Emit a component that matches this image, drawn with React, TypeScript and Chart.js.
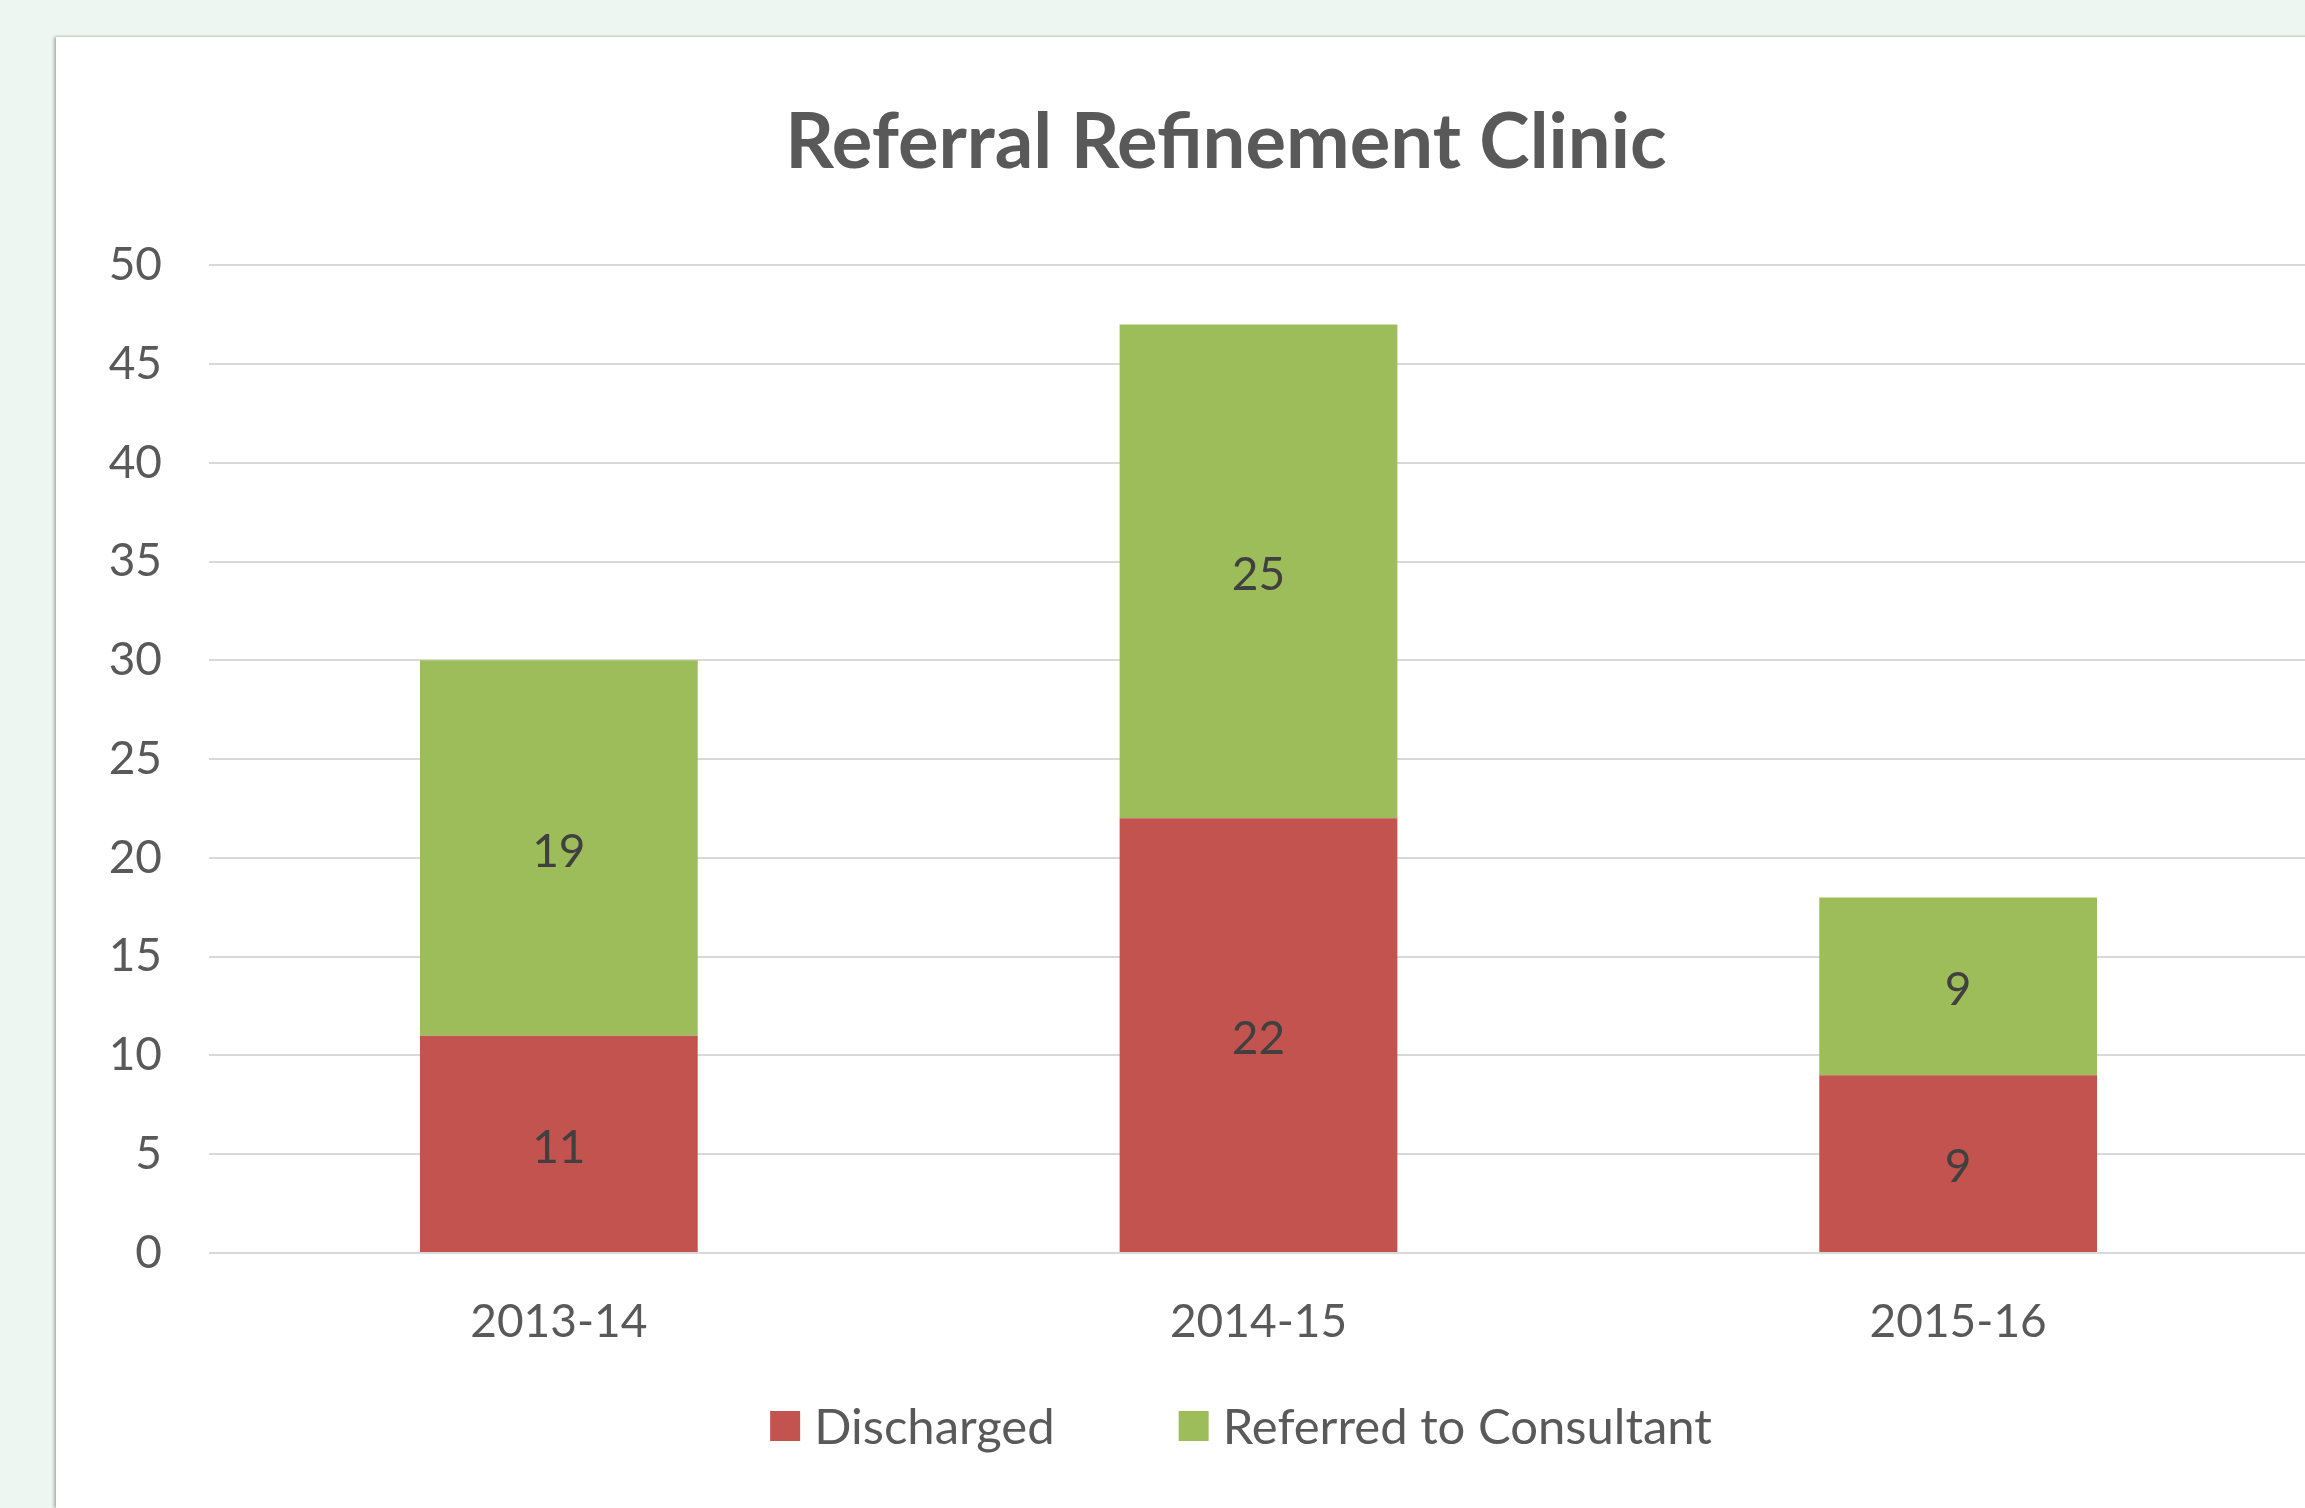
import React, { useEffect, useRef } from "react";
import { Chart, registerables } from "chart.js";

Chart.register(...registerables);

const categories = ["2013-14", "2014-15", "2015-16"];
const discharged = [11, 22, 9];
const referred = [19, 25, 9];
const seriesNames = ["Discharged", "Referred to Consultant"];
const seriesColors = ["#c2534f", "#9dbd5b"];
const chartTitle = "Referral Refinement Clinic";
const yMin = 0;
const yMax = 50;
const yStep = 5;

const FONT = "Lato";
const CANVAS_W = 2340;
const CANVAS_H = 1471;

const dataLabelPlugin = {
  id: "dataLabels",
  afterDatasetsDraw(chart: any) {
    const ctx = chart.ctx;
    ctx.save();
    ctx.font = `46px ${FONT}`;
    ctx.fillStyle = "#404040";
    ctx.textAlign = "center";
    ctx.textBaseline = "middle";
    chart.data.datasets.forEach((ds: any, i: number) => {
      const meta = chart.getDatasetMeta(i);
      meta.data.forEach((el: any, j: number) => {
        const p = el.getCenterPoint();
        ctx.fillText(String(ds.data[j]), p.x, p.y + 4);
      });
    });
    ctx.restore();
  },
};

const legendPlugin = {
  id: "customLegend",
  afterDraw(chart: any) {
    const ctx = chart.ctx;
    const box = 30;
    const gapBoxText = 14;
    const gapItems = 124;
    const centerX = 1185;
    const centerY = 1389;
    ctx.save();
    ctx.font = `49px ${FONT}`;
    ctx.textBaseline = "middle";
    ctx.textAlign = "left";
    const items = chart.data.datasets.map((d: any) => ({
      label: d.label,
      color: d.backgroundColor,
      w: ctx.measureText(d.label).width,
    }));
    let total = 0;
    items.forEach((it: any, i: number) => {
      total += box + gapBoxText + it.w + (i > 0 ? gapItems : 0);
    });
    let x = centerX - total / 2;
    items.forEach((it: any) => {
      ctx.fillStyle = it.color;
      ctx.fillRect(x, centerY - box / 2, box, box);
      x += box + gapBoxText;
      ctx.fillStyle = "#595959";
      ctx.fillText(it.label, x, centerY + 2);
      x += it.w + gapItems;
    });
    ctx.restore();
  },
};

export default function App() {
  const ref = useRef<HTMLCanvasElement | null>(null);

  useEffect(() => {
    if (!ref.current) return;
    const chart = new Chart(ref.current, {
      type: "bar",
      data: {
        labels: categories,
        datasets: [
          {
            label: seriesNames[0],
            data: discharged,
            backgroundColor: seriesColors[0],
            borderWidth: 0,
            categoryPercentage: 1,
            barPercentage: 0.397,
          },
          {
            label: seriesNames[1],
            data: referred,
            backgroundColor: seriesColors[1],
            borderWidth: 0,
            categoryPercentage: 1,
            barPercentage: 0.397,
          },
        ],
      },
      options: {
        animation: false,
        responsive: false,
        devicePixelRatio: 1,
        layout: { padding: { left: 0, right: 0, top: 0, bottom: 0 } },
        plugins: {
          legend: { display: false },
          tooltip: { enabled: false },
          title: {
            display: true,
            text: chartTitle,
            color: "#595959",
            font: { family: FONT, size: 76, weight: "bold" },
            padding: { top: 61, bottom: 76 },
          },
        },
        scales: {
          x: {
            stacked: true,
            grid: { display: false, drawTicks: false },
            border: { display: false },
            ticks: {
              color: "#595959",
              font: { family: FONT, size: 46 },
              padding: 42,
            },
            afterFit: (s: any) => {
              s.height = 255;
            },
          },
          y: {
            stacked: true,
            min: yMin,
            max: yMax,
            grid: { color: "#d9d9d9", lineWidth: 2, drawTicks: false },
            border: { display: false },
            ticks: {
              stepSize: yStep,
              color: "#595959",
              font: { family: FONT, size: 46 },
              padding: 47,
            },
            afterFit: (s: any) => {
              s.width = 153;
            },
          },
          y2: {
            position: "right",
            display: true,
            grid: { display: false, drawTicks: false },
            border: { display: false },
            ticks: { display: false },
            afterFit: (s: any) => {
              s.width = 88;
            },
          },
        },
      },
      plugins: [dataLabelPlugin, legendPlugin],
    });
    return () => chart.destroy();
  }, []);

  return (
    <div
      style={{
        position: "fixed",
        left: 0,
        top: 0,
        width: 2305,
        height: 1508,
        overflow: "hidden",
        background: "#edf6f1",
      }}
    >
      <div
        style={{
          position: "absolute",
          left: 56,
          top: 37,
          width: CANVAS_W,
          height: CANVAS_H,
          background: "#ffffff",
          boxShadow: "-2px 0 3px rgba(0,0,0,0.28), 0 -1px 2px rgba(0,0,0,0.06)",
        }}
      >
        <canvas
          ref={ref}
          width={CANVAS_W}
          height={CANVAS_H}
          style={{ display: "block", width: CANVAS_W, height: CANVAS_H }}
        />
      </div>
    </div>
  );
}
